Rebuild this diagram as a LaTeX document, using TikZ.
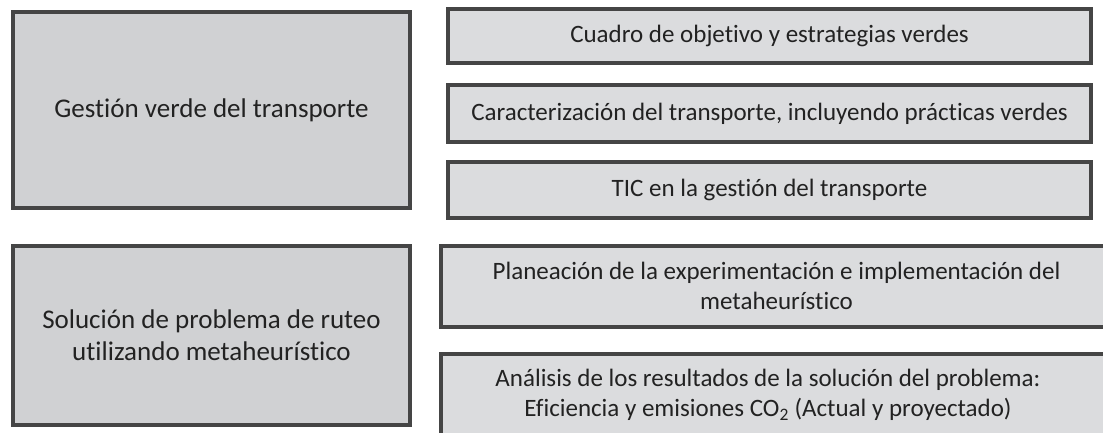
\documentclass[tikz,border=0pt]{standalone}
\usepackage{fontspec}
\setmainfont{Carlito}[Ligatures={NoCommon}]
\definecolor{bordc}{HTML}{454545}
\definecolor{fillL}{HTML}{D0D1D3}
\definecolor{fillR}{HTML}{DBDCDE}
\definecolor{txtc}{HTML}{222222}
\tikzset{
  boxL/.style={draw=bordc, fill=fillL, line width=4pt, inner sep=0pt,
    text=txtc, align=center, font=\fontsize{27}{32}\selectfont},
  boxR/.style={draw=bordc, fill=fillR, line width=4pt, inner sep=0pt,
    text=txtc, align=center, font=\fontsize{25}{30}\selectfont},
}
\begin{document}
\begin{tikzpicture}[x=1pt,y=-1pt]
\useasboundingbox (0,0) rectangle (1103,433);
% left boxes (outer 11-412)
\node[boxL, minimum width=397pt, minimum height=196pt] (L1) at (211.5,110) {Gestión verde del transporte};
\node[boxL, minimum width=397pt, minimum height=179pt] (L2) at (211.5,335.5) {Solución de problema de ruteo\\utilizando metaheurístico};
% right boxes
\node[boxR, minimum width=643pt, minimum height=54pt] (R1) at (769.5,36) {Cuadro de objetivo y estrategias verdes};
\node[boxR, minimum width=643pt, minimum height=57pt] (R2) at (769.5,113.5) {Caracterización del transporte, incluyendo prácticas verdes};
\node[boxR, minimum width=643pt, minimum height=56pt] (R3) at (769.5,190) {TIC en la gestión del transporte};
\node[boxR, minimum width=671pt, minimum height=81pt] (R4) at (776.5,286) {Planeación de la experimentación e implementación del\\metaheurístico};
\node[boxR, minimum width=671pt, minimum height=94pt] (R5) at (776.5,401) {};
\node[text=txtc, align=center, font=\fontsize{25}{30}\selectfont, inner sep=0pt] (R5t) at (768,395) {Análisis de los resultados de la solución del problema:\\Eficiencia y emisiones CO\textsubscript{2} (Actual y proyectado)};
\end{tikzpicture}
\end{document}
